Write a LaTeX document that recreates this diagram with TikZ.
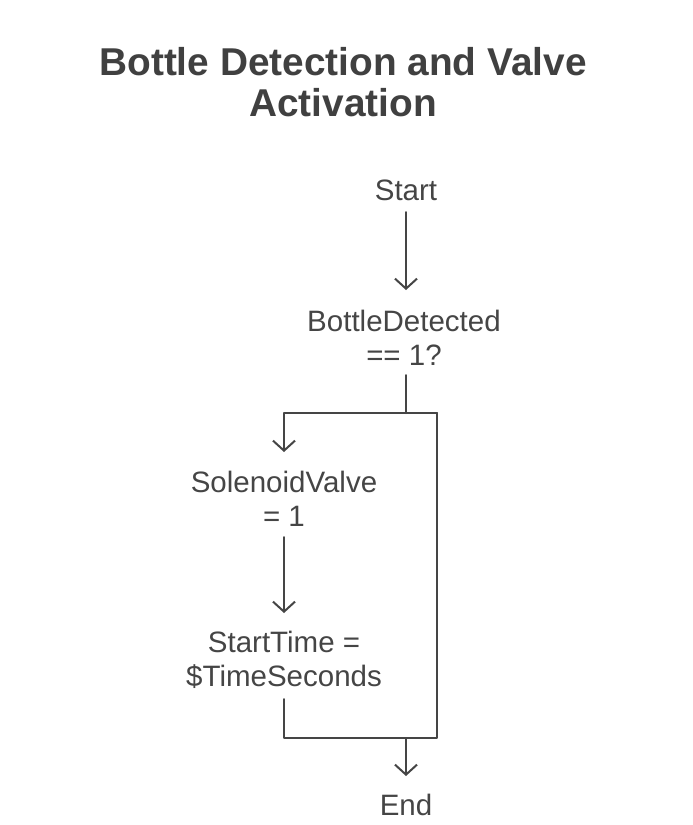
\documentclass[tikz,border=0pt]{standalone}
\usepackage{fontspec}
\setmainfont{Liberation Sans}
\usetikzlibrary{arrows.meta}
\definecolor{ink}{HTML}{454545}
\definecolor{titleink}{HTML}{404040}
\tikzset{
  lbl/.style={text=ink, align=center, inner sep=0pt, font=\fontsize{29.5}{34}\selectfont},
  ttl/.style={text=titleink, align=center, inner sep=0pt, font=\bfseries\fontsize{38.8}{41}\selectfont},
  conn/.style={draw=ink, line width=2pt, line join=round, line cap=round},
  arr/.style={conn, -{Straight Barb[length=10pt,width=22pt,line width=2pt]}}
}
\begin{document}
\begin{tikzpicture}[x=1pt,y=1pt]
\useasboundingbox (0,0) rectangle (693,-825);
\node[ttl] (title) at (343,-82) {Bottle Detection and Valve\\Activation};
\node[lbl] (start) at (406,-190) {Start};
\node[lbl] (bd) at (404,-338) {BottleDetected\\== 1?};
\node[lbl] (sv) at (284,-499) {SolenoidValve\\= 1};
\node[lbl] (st) at (284,-660) {StartTime =\\\$TimeSeconds};
\node[lbl] (end) at (406,-805) {End};
\coordinate (j1) at (406,-413);
\coordinate (jl) at (284,-413);
\coordinate (jr) at (437,-413);
\coordinate (j2l) at (284,-738);
\coordinate (j2r) at (437,-738);
\coordinate (j2) at (406,-738);
\draw[arr] ([yshift=-22pt]start.center) -- ([yshift=48pt]bd.center -| start);
\draw[conn] ([yshift=-37pt]bd.center -| j1) -- (j1);
\draw[arr] (jr) -- (jl) -- ([yshift=47pt]sv.center);
\draw[arr] ([yshift=-38pt]sv.center) -- ([yshift=47pt]st.center);
\draw[conn] ([yshift=-39pt]st.center) -- (j2l) -- (j2r) -- (jr);
\draw[arr] (j2) -- ([yshift=29pt]end.center -| j2);
\end{tikzpicture}
\end{document}
